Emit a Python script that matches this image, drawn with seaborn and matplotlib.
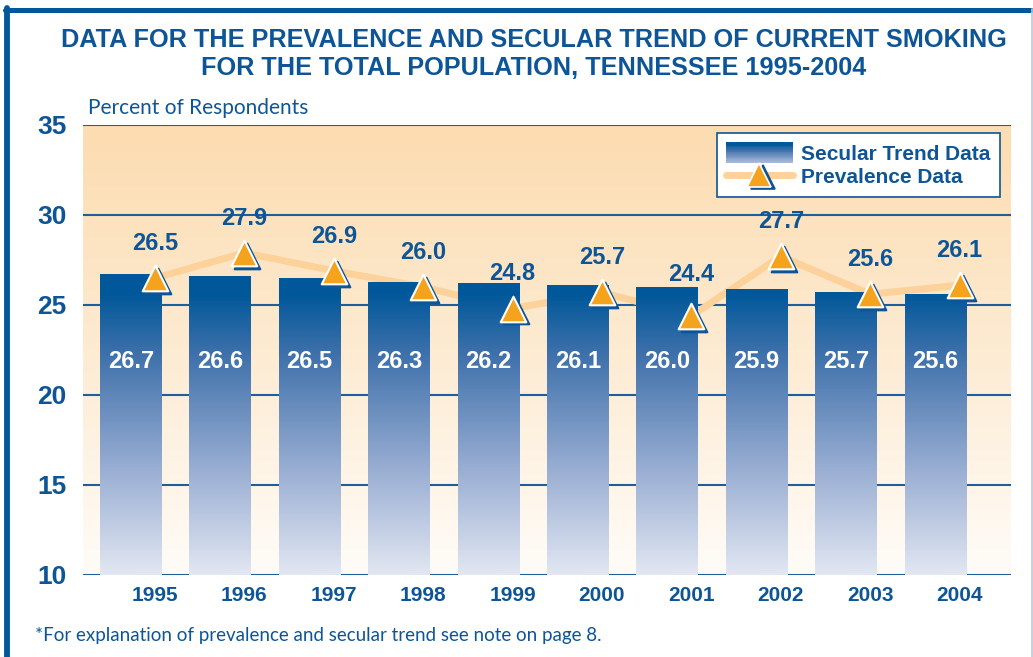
import numpy as np
import pandas as pd
import matplotlib
matplotlib.use('Agg')
import matplotlib.pyplot as plt
import seaborn as sns
from matplotlib.colors import LinearSegmentedColormap
from matplotlib.patches import Rectangle
from matplotlib.lines import Line2D
from matplotlib.transforms import ScaledTranslation
from matplotlib.legend_handler import HandlerBase, HandlerLine2D

# datos del grafico
years = [1995, 1996, 1997, 1998, 1999, 2000, 2001, 2002, 2003, 2004]
secular = [26.7, 26.6, 26.5, 26.3, 26.2, 26.1, 26.0, 25.9, 25.7, 25.6]
prevalence = [26.5, 27.9, 26.9, 26.0, 24.8, 25.7, 24.4, 27.7, 25.6, 26.1]
y_ticks = [10, 15, 20, 25, 30, 35]

title = ('DATA FOR THE PREVALENCE AND SECULAR TREND OF CURRENT SMOKING\n'
         'FOR THE TOTAL POPULATION, TENNESSEE 1995-2004')
note = '*For explanation of prevalence and secular trend see note on page 8.'

BLUE = '#0d5596'
GRID = '#1f5e9c'
ORANGE = '#f5a21d'
PEACH = '#fdd19a'

df = pd.DataFrame({'year': years, 'secular': secular, 'prevalence': prevalence})
df['bar_x'] = df['year'] - 0.27

sns.set_style('white')
plt.rcParams['font.family'] = ['Liberation Sans', 'DejaVu Sans']

fig = plt.figure(figsize=(10.33, 6.57), dpi=100)
ax = fig.add_axes([83 / 1033, 82 / 657, 928 / 1033, 450 / 657])
shadow_off = ScaledTranslation(2.2 / 72, -2.0 / 72, fig.dpi_scale_trans)

x0, x1 = 1994.195, 2004.575

# fondo degradado
bg = LinearSegmentedColormap.from_list('bg', ['#fffcf8', '#fdebd2', '#fcdcb0'])
ax.imshow(np.linspace(0, 1, 256).reshape(-1, 1), cmap=bg, origin='lower',
          extent=[x0, x1, 10, 35], aspect='auto', zorder=0)

# barras de tendencia secular
sns.barplot(data=df, x='bar_x', y='secular', native_scale=True, width=0.69,
            color=BLUE, ax=ax, zorder=3)
bar_cmap = LinearSegmentedColormap.from_list(
    'bars', [(0, '#e2e7f2'), (0.35, '#98add2'), (0.72, '#3f71ab'), (0.92, '#00589a'), (1, '#00589a')])
for p in ax.patches:
    p.set_facecolor('none')
    p.set_edgecolor('none')
    im = ax.imshow(np.linspace(0, 1, 256).reshape(-1, 1), cmap=bar_cmap, origin='lower',
                   extent=[p.get_x(), p.get_x() + p.get_width(), 10, 27],
                   aspect='auto', zorder=3)
    im.set_clip_path(p)

# linea de prevalencia
sns.lineplot(data=df, x='year', y='prevalence', color=PEACH, linewidth=5,
             ax=ax, zorder=2)
sns.scatterplot(data=df, x='year', y='prevalence', marker='^', s=340,
                color=BLUE, edgecolor=BLUE, linewidth=1.5, ax=ax, zorder=5)
ax.collections[-1].set_offset_transform(ax.transData + shadow_off)
sns.scatterplot(data=df, x='year', y='prevalence', marker='^', s=340,
                color=ORANGE, edgecolor='white', linewidth=1.5, ax=ax, zorder=5)

# etiquetas
for yr, v in zip(years, prevalence):
    dy = 30 if yr == 2001 else 25
    ax.annotate(f'{v:.1f}', (yr, v), xytext=(0, dy), textcoords='offset points',
                ha='center', va='center', fontsize=17, fontweight='bold', color=BLUE, zorder=6)
for bx, v in zip(df['bar_x'], secular):
    ax.text(bx, 21.85, f'{v:.1f}', ha='center', va='center', fontsize=17,
            fontweight='bold', color='white', zorder=6)

ax.set_xlim(x0, x1)
ax.set_ylim(10, 35)
ax.set_yticks(y_ticks)
ax.set_xticks(years)
ax.set_xticklabels([str(y) for y in years])
ax.yaxis.grid(True, color=GRID, linewidth=1.5, zorder=1)
ax.set_axisbelow(True)
for s in ax.spines.values():
    s.set_visible(False)
ax.tick_params(axis='y', length=9, width=1.5, color=GRID, pad=3, labelsize=19, labelcolor=BLUE)
ax.tick_params(axis='x', length=0, pad=8, labelsize=15, labelcolor=BLUE)
for lab in ax.get_xticklabels() + ax.get_yticklabels():
    lab.set_fontweight('bold')
ax.set_xlabel('')
ax.set_ylabel('')


# leyenda con degradado
class HandlerGradient(HandlerBase):
    def create_artists(self, legend, orig, xd, yd, width, height, fontsize, trans):
        n = 24
        arts = []
        for i in range(n):
            c = bar_cmap(1 - i / (n - 1) * 0.72)
            arts.append(Rectangle((-xd, -yd + height - (i + 1) * height / n),
                                  width, height / n + 0.3, facecolor=c, edgecolor='none',
                                  transform=trans))
        return arts


class HandlerShadow(HandlerLine2D):
    def create_artists(self, legend, orig, xd, yd, width, height, fontsize, trans):
        arts = super().create_artists(legend, orig, xd, yd, width, height, fontsize, trans)
        xm = -xd + width / 2
        ym = (height - yd) / 2
        sh = Line2D([xm], [ym], linestyle='none', marker='^', markersize=17,
                    markerfacecolor=BLUE, markeredgecolor=BLUE, markeredgewidth=1.2,
                    transform=trans + shadow_off)
        top = Line2D([xm], [ym], linestyle='none', marker='^', markersize=17,
                     markerfacecolor=ORANGE, markeredgecolor='white', markeredgewidth=1.2,
                     transform=trans)
        return [arts[0], sh, top]


grad_handle = Rectangle((0, 0), 1, 1)
prev_handle = Line2D([], [], color=PEACH, linewidth=5)
leg = ax.legend([grad_handle, prev_handle], ['Secular Trend Data', 'Prevalence Data'],
                handler_map={Rectangle: HandlerGradient(), prev_handle: HandlerShadow()},
                loc='upper right', bbox_to_anchor=(0.988, 0.982), borderaxespad=0,
                frameon=True, fancybox=False, edgecolor=BLUE, framealpha=1, borderpad=0.45,
                handlelength=3.2, handleheight=1.15, handletextpad=0.4, labelspacing=0.1,
                prop={'weight': 'bold', 'size': 15})
leg.get_frame().set_linewidth(1.2)
for t in leg.get_texts():
    t.set_color(BLUE)
leg.set_zorder(10)

# titulo, eje y nota
fig.text(534 / 1033, 1 - 54 / 657, title, ha='center', va='center', fontsize=18.2,
         fontweight='bold', color=BLUE, linespacing=1.2)
fig.text(88 / 1033, 1 - 108 / 657, 'Percent of Respondents', ha='left', va='center',
         fontsize=15, color=BLUE, family=['Lato', 'DejaVu Sans'])
fig.text(35 / 1033, 1 - 636 / 657, note, ha='left', va='center', fontsize=13.5,
         color=BLUE, family=['Lato', 'DejaVu Sans'])

# marco
fig.add_artist(Line2D([5 / 1033, 1031 / 1033], [1 - 9.5 / 657] * 2, color='#00589a',
                      linewidth=3.6, transform=fig.transFigure))
fig.add_artist(Line2D([6.5 / 1033] * 2, [0, 1 - 8 / 657], color='#00589a',
                      linewidth=4.2, transform=fig.transFigure))
fig.add_artist(Line2D([1031.5 / 1033] * 2, [0, 1 - 9 / 657], color='#b8c8dc',
                      linewidth=1.2, transform=fig.transFigure))

fig.savefig('out.png', dpi=100)
